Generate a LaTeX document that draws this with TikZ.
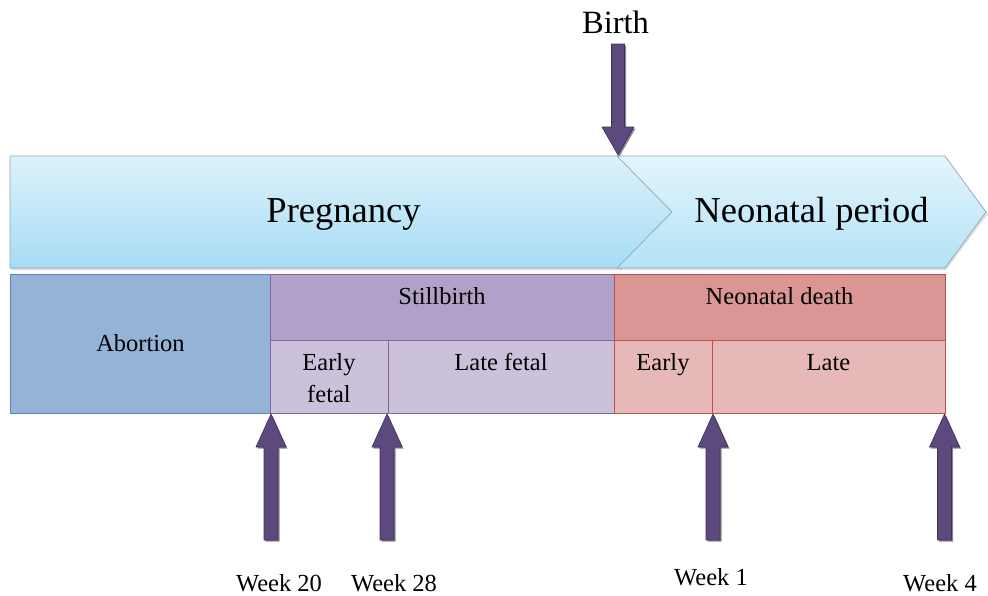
\documentclass[tikz,border=0pt]{standalone}
\usepackage{fontspec}
\setmainfont{Liberation Serif}
\usetikzlibrary{calc}
\definecolor{arrfill}{HTML}{5C4A7F}
\definecolor{arrline}{HTML}{3E305A}
\definecolor{arrshadow}{HTML}{2E2440}
\definecolor{chevtop}{HTML}{DDF2FB}
\definecolor{chevbot}{HTML}{A6DCF4}
\definecolor{chevtopb}{HTML}{E2F5FC}
\definecolor{chevbotb}{HTML}{B4E2F6}
\definecolor{chevline}{HTML}{8FA7B3}
\definecolor{abofill}{HTML}{95B3D7}
\definecolor{aboline}{HTML}{5E86B8}
\definecolor{stilltop}{HTML}{B1A0C7}
\definecolor{stillsub}{HTML}{CCC1DA}
\definecolor{stillline}{HTML}{8064A2}
\definecolor{neotop}{HTML}{D99694}
\definecolor{neosub}{HTML}{E6B9B8}
\definecolor{neoline}{HTML}{C0504D}
% up block arrow: tip, tail, style, offset
\newcommand\uparr[4]{%
  \path[#3] ($(#1)+(#4)$) -- ++(15,33) -- ++(-8,0) -- ($(#2)+(#4)+(7,0)$)
    -- ++(-14,0) -- ($(#1)+(#4)+(-7,33)$) -- ++(-8,0) -- cycle;}
% down block arrow: tip, tail, style, offset
\newcommand\downarr[4]{%
  \path[#3] ($(#1)+(#4)$) -- ++(16,-28) -- ++(-9.5,0) -- ($(#2)+(#4)+(6.5,0)$)
    -- ++(-13,0) -- ($(#1)+(#4)+(-6.5,-28)$) -- ++(-9.5,0) -- cycle;}
\begin{document}
\begin{tikzpicture}[x=1pt,y=-1pt,
  txt/.style={inner sep=0pt, anchor=base, font=\fontsize{24.5}{28}\selectfont},
  bigtxt/.style={inner sep=0pt, anchor=base, font=\fontsize{36.5}{40}\selectfont},
  wktxt/.style={inner sep=0pt, anchor=base, font=\fontsize{24.5}{28}\selectfont},
  box/.style={draw, line width=1pt, inner sep=0pt, anchor=north west},
  chevron/.style={draw=chevline, line width=0.7pt, line join=miter},
  chevshadow/.style={fill=black, opacity=0.12},
  arrmain/.style={fill=arrfill, draw=arrline, line width=0.6pt, line join=miter},
  arrshad/.style={fill=arrshadow, opacity=0.55},
]
\useasboundingbox (0,0) rectangle (988,595);

% ---- chevrons ----
\path[chevshadow] (11,158) -- (621,158) -- (673,214) -- (621,270) -- (11,270) -- cycle;
\path[chevshadow] (619,158) -- (946,158) -- (988,214) -- (946,270) -- (619,270) -- (674,214) -- cycle;
\path[chevron, top color=chevtop, bottom color=chevbot]
  (10,156) -- (619,156) -- (672,212) -- (619,268) -- (10,268) -- cycle;
\path[chevron, top color=chevtopb, bottom color=chevbotb]
  (617,156) -- (945,156) -- (986,212) -- (945,268) -- (617,268) -- (672,212) -- cycle;
\node[bigtxt] (preg) at (343.5,222) {Pregnancy};
\node[bigtxt] (neop) at (811.5,222) {Neonatal period};

% ---- boxes ----
\node[box, fill=abofill, draw=aboline, minimum width=260pt, minimum height=139pt] (abort) at (10,274) {};
\node[box, fill=stilltop, draw=stillline, minimum width=344pt, minimum height=66pt] (still) at (270,274) {};
\node[box, fill=stillsub, draw=stillline, minimum width=118pt, minimum height=73pt] (efetal) at (270,340) {};
\node[box, fill=stillsub, draw=stillline, minimum width=226pt, minimum height=73pt] (lfetal) at (388,340) {};
\node[box, fill=neotop, draw=neoline, minimum width=331pt, minimum height=66pt] (ndeath) at (614,274) {};
\node[box, fill=neosub, draw=neoline, minimum width=98pt, minimum height=73pt] (nearly) at (614,340) {};
\node[box, fill=neosub, draw=neoline, minimum width=233pt, minimum height=73pt] (nlate) at (712,340) {};

\node[txt] (tabort) at (140.5,351) {Abortion};
\node[txt] (tstill) at (442,304) {Stillbirth};
\node[txt] (tefetal1) at (329,370) {Early};
\node[txt] (tefetal2) at (329,402) {fetal};
\node[txt] (tlfetal) at (501,370) {Late fetal};
\node[txt] (tndeath) at (779.5,304) {Neonatal death};
\node[txt] (tnearly) at (663,370) {Early};
\node[txt] (tnlate) at (828.5,370) {Late};

% ---- birth ----
\node[inner sep=0pt, anchor=base, font=\fontsize{32.5}{36}\selectfont] (birth) at (615.5,33) {Birth};
\coordinate (btip) at (618,155);
\coordinate (btail) at (618,44);
\downarr{btip}{btail}{arrshad}{1.5,1.5}
\downarr{btip}{btail}{arrmain}{0,0}

% ---- week arrows ----
\coordinate (t20) at (abort.south east);
\coordinate (t28) at ($(efetal.south east)+(-2,0)$);
\coordinate (t1) at (nearly.south east);
\coordinate (t4) at ($(nlate.south east)+(-1.5,0)$);
\coordinate (b20) at ($(t20)+(0,126)$);
\coordinate (b28) at ($(t28)+(0,126)$);
\coordinate (b1) at ($(t1)+(0,126)$);
\coordinate (b4) at ($(t4)+(0,126)$);
\foreach \a in {20,28,1,4}{
  \uparr{t\a}{b\a}{arrshad}{1.5,1.5}
  \uparr{t\a}{b\a}{arrmain}{0,0}
}
\node[wktxt] (w20) at (279,591) {Week 20};
\node[wktxt] (w28) at (394,591) {Week 28};
\node[wktxt] (w1) at (711,585) {Week 1};
\node[wktxt] (w4) at (940,591) {Week 4};
\end{tikzpicture}
\end{document}
